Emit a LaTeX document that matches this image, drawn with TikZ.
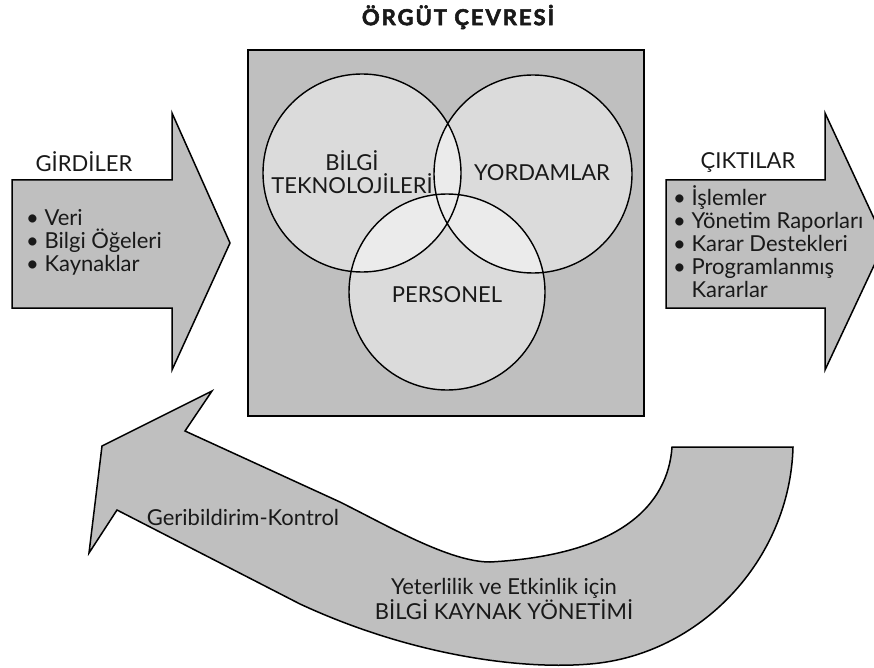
\documentclass[tikz,border=0pt]{standalone}
\usepackage{fontspec}
\setmainfont{Lato}
\begin{document}
\begin{tikzpicture}[x=1pt,y=-1pt,
    txt/.style={inner sep=0pt, text=black!90, font=\fontsize{22}{23}\selectfont},
    lst/.style={txt, align=left, anchor=west},
    shp/.style={draw=black, line width=1.5pt, fill=black!25, line join=miter},
    ring/.style={draw=black, line width=1.4pt}]

    \useasboundingbox (0,0) rectangle (874,668);

    \coordinate (bt) at (362,173);
    \coordinate (yd) at (533,174);
    \coordinate (ps) at (447,292);

    \draw[shp] (12,180) -- (172,180) -- (172,113) -- (230,243) -- (172,370) -- (172,308) -- (12,308) -- cycle;
    \draw[shp] (666,180) -- (825,180) -- (825,113) -- (885,242) -- (825,370) -- (825,308) -- (666,308) -- cycle;
    \draw[shp] (793,447) -- (672,447) .. controls (668,505) and (620,555) .. (490,562)
        .. controls (450,562) and (390,527) .. (340,502) -- (185,431) -- (212,391) -- (102,446)
        -- (89,553) -- (117,510) -- (300,604) .. controls (410,655) and (520,670) .. (590,664)
        .. controls (700,655) and (790,560) .. (793,447) -- cycle;
    \draw[shp] (248,50) rectangle (644,416);

    \fill[black!14] (bt) circle[radius=99pt] (yd) circle[radius=99pt] (ps) circle[radius=98pt];
    \begin{scope}
        \clip (bt) circle[radius=99pt];
        \fill[black!8] (yd) circle[radius=99pt] (ps) circle[radius=98pt];
    \end{scope}
    \begin{scope}
        \clip (yd) circle[radius=99pt];
        \fill[black!8] (ps) circle[radius=98pt];
    \end{scope}
    \draw[ring] (bt) circle[radius=99pt] (yd) circle[radius=99pt] (ps) circle[radius=98pt];

    \node[txt, font=\fontsize{22}{23}\selectfont\bfseries\addfontfeatures{LetterSpace=9,FakeBold=2.5}] (t) at (458,17) {ÖRGÜT ÇEVRESİ};
    \node[txt, align=center] (b) at (352,172) {BİLGİ\\TEKNOLOJİLERİ};
    \node[txt] (y) at (542,173) {YORDAMLAR};
    \node[txt] (p) at (447,295) {PERSONEL};

    \node[txt] (g) at (84,162) {GİRDİLER};
    \node[lst] (gl) at (26,242) {• Veri\\• Bilgi Öğeleri\\• Kaynaklar};
    \node[txt] (c) at (748,162) {ÇIKTILAR};
    \node[lst] (cl) at (673,242) {• İşlemler\\• Yönetim Raporları\\• Karar Destekleri\\• Programlanmış\\\phantom{• }Kararlar};

    \node[txt] (f) at (243,517) {Geribildirim-Kontrol};
    \node[txt, align=center] (k) at (504,599) {Yeterlilik ve Etkinlik için\\BİLGİ KAYNAK YÖNETİMİ};

\end{tikzpicture}
\end{document}
